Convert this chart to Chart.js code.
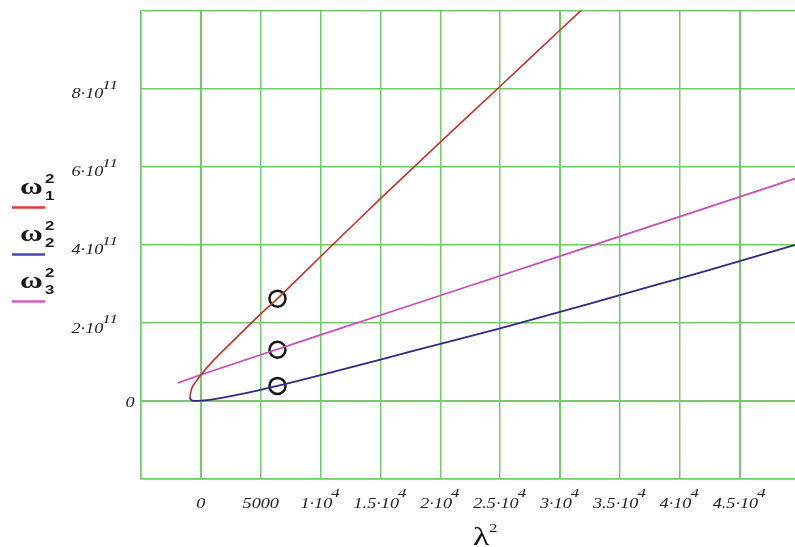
<!DOCTYPE html>
<html>
<head>
<meta charset="utf-8">
<script src="https://cdn.jsdelivr.net/npm/chart.js@4/dist/chart.umd.min.js"></script>
<style>
    html, body { margin: 0; padding: 0; background: #fff; overflow: hidden; }
    #wrap { width: 810px; height: 547px; }
</style>
</head>
<body>
<div id="wrap"><canvas id="chart" width="810" height="547"></canvas></div>
<script>
// Valores (λ² en el eje x, ω² en el eje y)
const redX = [-900, -870, -690, -400, 0, 1000, 2500, 5000, 6400, 10000, 15000, 20000, 25000, 30000, 33000];
const redY = [1.0e10, 2.0e10, 3.7e10, 5.0e10, 6.7e10, 1.02e11, 1.48e11, 2.23e11, 2.62e11, 3.70e11, 5.18e11, 6.63e11, 8.06e11, 9.5e11, 1.035e12];

const blueX = [-900, -860, -700, -400, 0, 1000, 2500, 5000, 6400, 10000, 15000, 20000, 25000, 30000, 35000, 40000, 45000, 50000];
const blueY = [1.0e10, 4e9, 1e9, 3e8, 5e8, 4e9, 1.2e10, 2.8e10, 3.85e10, 6.6e10, 1.06e11, 1.46e11, 1.86e11, 2.28e11, 2.71e11, 3.14e11, 3.58e11, 4.03e11];

const magentaX = [-1900, 0, 10000, 20000, 30000, 40000, 50000];
const magentaY = [4.6e10, 6.7e10, 1.69e11, 2.7e11, 3.71e11, 4.72e11, 5.73e11];

const markX = [6400, 6400, 6400];
const markY = [2.62e11, 1.31e11, 3.85e10];

const xTickValues = [0, 5000, 10000, 15000, 20000, 25000, 30000, 35000, 40000, 45000];
const xTickBase = ['0', '5000', '1·10', '1.5·10', '2·10', '2.5·10', '3·10', '3.5·10', '4·10', '4.5·10'];
const xTickExp = ['', '', '4', '4', '4', '4', '4', '4', '4', '4'];

const yTickValues = [0, 2e11, 4e11, 6e11, 8e11];
const yTickBase = ['0', '2·10', '4·10', '6·10', '8·10'];
const yTickExp = ['', '11', '11', '11', '11'];

const legendSub = ['1', '2', '3'];
const legendColors = ['#e03a36', '#4a48b0', '#cc5fc8'];

const GRID = 'rgb(118, 200, 108)';
const SX = 1.3; // el texto del original está estirado a lo ancho

function toPoints(xs, ys) {
    return xs.map((x, i) => ({ x: x, y: ys[i] }));
}

/**
 * Dibuja un texto estirado horizontalmente
 */
function stretchText(ctx, text, x, y, font) {
    ctx.save();
    ctx.font = font;
    ctx.translate(x, y);
    ctx.scale(SX, 1);
    ctx.fillText(text, 0, 0);
    ctx.restore();
}

function textWidth(ctx, text, font) {
    ctx.font = font;
    return ctx.measureText(text).width * SX;
}

const baseFont = 'italic 14px "Liberation Serif"';
const expFont = 'italic 13px "Liberation Serif"';

const mathcadText = {
    id: 'mathcadText',
    afterDraw(chart) {
        const ctx = chart.ctx;
        const xs = chart.scales.x;
        const ys = chart.scales.y;
        ctx.save();
        ctx.fillStyle = '#222';
        ctx.textAlign = 'left';
        ctx.textBaseline = 'middle';

        // Etiquetas del eje x
        xTickValues.forEach((v, i) => {
            const px = xs.getPixelForValue(v);
            const w1 = textWidth(ctx, xTickBase[i], baseFont);
            const w2 = xTickExp[i] ? textWidth(ctx, xTickExp[i], expFont) : 0;
            const left = px - (w1 + w2) / 2;
            stretchText(ctx, xTickBase[i], left, 504, baseFont);
            if (xTickExp[i]) stretchText(ctx, xTickExp[i], left + w1 - 1, 494, expFont);
        });

        // Etiquetas del eje y
        yTickValues.forEach((v, i) => {
            const py = ys.getPixelForValue(v);
            if (!yTickExp[i]) {
                const w = textWidth(ctx, yTickBase[i], baseFont);
                stretchText(ctx, yTickBase[i], 130 - w / 2, py + 2, baseFont);
                return;
            }
            const w1 = textWidth(ctx, yTickBase[i], baseFont);
            const w2 = textWidth(ctx, yTickExp[i], expFont);
            const left = 119 - w1 - w2;
            stretchText(ctx, yTickBase[i], left, py + 6, baseFont);
            stretchText(ctx, yTickExp[i], left + w1 - 1, py - 3, expFont);
        });

        // Título del eje x: λ²
        ctx.fillStyle = '#111';
        ctx.textBaseline = 'alphabetic';
        stretchText(ctx, 'λ', 473, 545, '26px "Liberation Serif"');
        ctx.textBaseline = 'middle';
        stretchText(ctx, '2', 489, 529, '13px "Liberation Serif"');

        // Leyenda: ω1², ω2², ω3²
        legendSub.forEach((s, i) => {
            const dy = i * 47;
            ctx.fillStyle = '#1a1a1a';
            ctx.textBaseline = 'alphabetic';
            stretchText(ctx, 'ω', 20, 194 + dy, 'bold 24px "Liberation Serif"');
            ctx.textBaseline = 'middle';
            stretchText(ctx, '2', 45, 179 + dy, 'bold 13px "Liberation Sans"');
            stretchText(ctx, s, 45, 196 + dy, 'bold 13px "Liberation Sans"');
            ctx.strokeStyle = legendColors[i];
            ctx.lineWidth = 2.5;
            ctx.beginPath();
            ctx.moveTo(12, 207.5 + dy);
            ctx.lineTo(45, 207.5 + dy);
            ctx.stroke();
        });
        ctx.restore();
    }
};

const gridStyle = {
    color: GRID,
    lineWidth: c => (c.tick && (c.tick.value === 0 || c.tick.value === 30000 || c.tick.value === 45000)) ? 2 : 1.5,
    drawTicks: false,
};

new Chart(document.getElementById('chart'), {
    type: 'scatter',
    data: {
        datasets: [
            {
                label: 'ω1²',
                data: toPoints(redX, redY),
                showLine: true,
                borderColor: '#bf342c',
                borderWidth: 1.6,
                pointRadius: 0,
                tension: 0.2,
            },
            {
                label: 'ω2²',
                data: toPoints(blueX, blueY),
                showLine: true,
                borderColor: '#2e2c80',
                borderWidth: 1.8,
                pointRadius: 0,
                tension: 0.2,
            },
            {
                label: 'ω3²',
                data: toPoints(magentaX, magentaY),
                showLine: true,
                borderColor: '#c84fb8',
                borderWidth: 1.8,
                pointRadius: 0,
                tension: 0,
            },
            {
                label: 'marcas',
                data: toPoints(markX, markY),
                showLine: false,
                pointRadius: 8,
                pointBorderWidth: 2.5,
                pointBorderColor: '#151515',
                pointBackgroundColor: 'rgba(0,0,0,0)',
            },
        ],
    },
    options: {
        responsive: false,
        animation: false,
        devicePixelRatio: 1,
        layout: { padding: { top: 10, right: 8, left: 0, bottom: 0 } },
        plugins: {
            legend: { display: false },
            tooltip: { enabled: false },
        },
        scales: {
            x: {
                type: 'linear',
                min: -5000,
                max: 50000,
                ticks: { stepSize: 5000, display: false },
                grid: gridStyle,
                border: { display: true, color: GRID, width: 1.5 },
                afterFit: s => { s.height = 68; },
            },
            y: {
                type: 'linear',
                min: -2e11,
                max: 1e12,
                ticks: { stepSize: 2e11, display: false },
                grid: gridStyle,
                border: { display: true, color: GRID, width: 1.5 },
                afterFit: s => { s.width = 141; },
            },
        },
    },
    plugins: [mathcadText],
});
</script>
</body>
</html>
